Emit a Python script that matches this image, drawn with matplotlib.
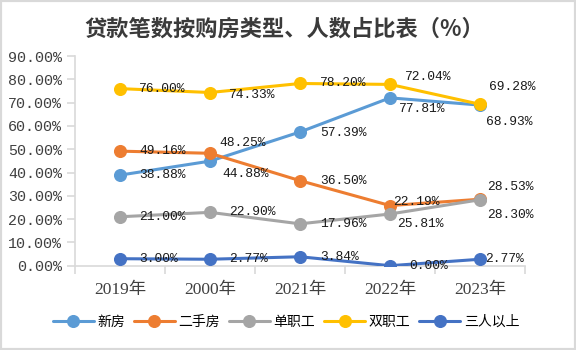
import matplotlib
matplotlib.use("Agg")
import matplotlib.pyplot as plt
from matplotlib.patches import Rectangle

categories = ["2019年", "2000年", "2021年", "2022年", "2023年"]
series_names = ["新房", "二手房", "单职工", "双职工", "三人以上"]
xinfang = [38.88, 44.88, 57.39, 72.04, 68.93]
ershoufang = [49.16, 48.25, 36.50, 25.81, 28.53]
danzhigong = [21.00, 22.90, 17.96, 22.19, 28.30]
shuangzhigong = [76.00, 74.33, 78.20, 77.81, 69.28]
sanren = [3.00, 2.77, 3.84, 0.00, 2.77]
yticks = [0, 10, 20, 30, 40, 50, 60, 70, 80, 90]

colors = ["#5B9BD5", "#ED7D31", "#A5A5A5", "#FFC000", "#4472C4"]
# label offsets in pixels (dx, dy up)
offsets = [
    [(19, 0), (12, -13), (20, -1), (15, 21), (6, -16.5)],
    [(19, 0), (9, 10), (20, 0), (7, -18), (7, 12.7)],
    [(19, 0), (19, 0), (20, 0), (3, 12), (7, -15)],
    [(19, 0), (19, -2), (20, 0), (9, -25), (9, 17)],
    [(19, 0), (19, 0), (20, 0), (19, 0), (5, 0)],
]

data = [xinfang, ershoufang, danzhigong, shuangzhigong, sanren]

CJK = ["Noto Sans CJK SC", "DejaVu Sans"]
fig = plt.figure(figsize=(5.76, 3.5), dpi=100)
ax = fig.add_axes([75/576, 1-265.7/350, 450/576, (265.7-56)/350])

x = list(range(len(categories)))
for vals, name, c in zip(data, series_names, colors):
    ax.plot(x, vals, color=c, lw=2.2, marker="o", ms=8.4, label=name,
            solid_capstyle="round", zorder=3)

for vals, offs in zip(data, offsets):
    for xi, v, (dx, dy) in zip(x, vals, offs):
        ax.annotate(f"{v:.2f}%", (xi, v), xytext=(dx, dy), textcoords="offset pixels",
                    ha="left", va="center", fontsize=9.4, family="Liberation Mono",
                    color="#1a1a1a", zorder=5)

ax.set_xlim(-0.5, len(categories) - 0.5)
ax.set_ylim(0, 90)
ax.set_yticks(yticks)
ax.set_yticklabels([f"{t:.2f}%" for t in yticks], family="Liberation Mono",
                   fontsize=10.8, color="#404040")
ax.set_xticks(x)
ax.set_xticklabels(categories, family=["Liberation Serif", "Noto Sans CJK SC"],
                   fontsize=12.5, color="#404040")
ax.set_xticks([i - 0.5 for i in range(len(categories) + 1)], minor=True)
ax.tick_params(axis="x", which="major", length=0, pad=12)
ax.tick_params(axis="x", which="minor", length=5.5, color="#D9D9D9", width=1.2)
ax.tick_params(axis="y", length=5.5, color="#D9D9D9", width=1.2, pad=4)
for s in ["top", "right"]:
    ax.spines[s].set_visible(False)
for s in ["left", "bottom"]:
    ax.spines[s].set_color("#D9D9D9")
    ax.spines[s].set_linewidth(1.2)

fig.text(284/576, 1-29.5/350, "贷款笔数按购房类型、人数占比表（%）", ha="center", va="center",
         fontsize=16, family=CJK, fontweight="bold", color="#3a3a3a")

fig.legend(loc="center", bbox_to_anchor=(286/576, 1-322/350), ncol=5, frameon=False,
           prop={"family": CJK, "size": 10}, handlelength=2.95, handletextpad=0.27,
           columnspacing=0.63, borderpad=0, borderaxespad=0)

fig.patches.append(Rectangle((0, 0), 1, 1, transform=fig.transFigure, fill=False,
                             edgecolor="#D9D9D9", lw=3, zorder=10))

fig.savefig("out.png", dpi=100)
